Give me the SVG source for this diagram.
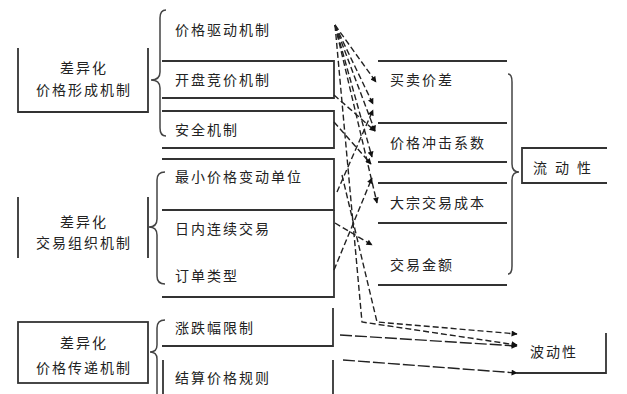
<svg xmlns="http://www.w3.org/2000/svg" width="627" height="394" viewBox="0 0 627 394">
<defs>
<style>
.ln{fill:none;stroke:#333;stroke-width:1.8}
.br{fill:none;stroke:#444;stroke-width:1.5}
.t{font-family:"Noto Sans CJK SC","Liberation Sans",sans-serif;font-size:14px;fill:#222;letter-spacing:2px}
.c{text-anchor:middle}
.d{fill:none;stroke:#222;stroke-width:1.4;stroke-dasharray:6,3}
.s{fill:none;stroke:#222;stroke-width:1.4;stroke-dasharray:12,3}
</style>
<marker id="ah" viewBox="0 0 10 10" refX="9" refY="5" markerWidth="7" markerHeight="6" orient="auto" markerUnits="userSpaceOnUse">
<path d="M0,0 L10,5 L0,10 z" fill="#111"/>
</marker>
</defs>
<rect width="627" height="394" fill="#fff"/>

<g id="src1">
<path class="ln" d="M18,48 V112 H148 V48"/>
<text class="t c" x="84" y="73">差异化</text>
<text class="t c" x="84" y="95">价格形成机制</text>
</g>
<g id="src2">
<path class="ln" d="M18,197 V258 M148,197 V258"/>
<text class="t c" x="84" y="227">差异化</text>
<text class="t c" x="84" y="248">交易组织机制</text>
</g>
<g id="src3">
<rect class="ln" x="18" y="322" width="130" height="61"/>
<text class="t c" x="84" y="348">差异化</text>
<text class="t c" x="84" y="373">价格传递机制</text>
</g>

<g id="brace1"><path class="br" d="M166,10 Q160,10 160,18 L160,72 Q160,80 151,80 Q160,80 160,88 L160,128 Q160,136 166,136"/></g>
<g id="brace2"><path class="br" d="M165,172 Q157,172 157,180 L157,219 Q157,227 149,227 Q157,227 157,235 L157,276 Q157,284 165,284"/></g>
<g id="brace3"><path class="br" d="M165,320 Q157,320 157,328 L157,345 Q157,352 150,352 Q157,352 157,359 L157,394"/></g>

<g id="m1"><text class="t" x="175" y="35">价格驱动机制</text></g>
<g id="m2"><path class="ln" d="M162,61 H334 V98 H162"/><text class="t" x="175" y="85">开盘竞价机制</text></g>
<g id="m3"><path class="ln" d="M162,111 H334 V148 H162"/><text class="t" x="175" y="135">安全机制</text></g>
<g id="m4"><path class="ln" d="M162,159 H334 V210 H162"/><text class="t" x="175" y="182">最小价格变动单位</text></g>
<g id="m5"><path class="ln" d="M334,210 V297 H162"/><text class="t" x="175" y="234">日内连续交易</text></g>
<g id="m6"><text class="t" x="175" y="281">订单类型</text></g>
<g id="m7"><path class="ln" d="M333,308 V346 H162"/><text class="t" x="175" y="333">涨跌幅限制</text></g>
<g id="m8"><path class="ln" d="M163,360 V394 M333,360 V394"/><text class="t" x="175" y="383">结算价格规则</text></g>

<g id="r1"><path class="ln" d="M378,61 H507"/><text class="t" x="390" y="85">买卖价差</text></g>
<g id="r2"><path class="ln" d="M378,123 H507 M378,162 H507"/><text class="t" x="390" y="148">价格冲击系数</text></g>
<g id="r3"><path class="ln" d="M378,183 H507 M378,223 H507"/><text class="t" x="390" y="208">大宗交易成本</text></g>
<g id="r4"><path class="ln" d="M378,285 H507"/><text class="t" x="390" y="270">交易金额</text></g>
<g id="brace4"><path class="br" d="M508,74 Q512,74 512,82 L512,164 Q512,172 519,172 Q512,172 512,180 L512,266 Q512,274 508,274"/></g>
<g id="liq"><path class="ln" d="M607,148 H522 V183 H607"/><text class="t" x="533" y="173" style="letter-spacing:8px">流动性</text></g>
<g id="vol"><path class="ln" d="M606,333 V373 H517"/><text class="t" x="530" y="357">波动性</text></g>

<g id="connectors">
<path class="d" d="M335,25 L376,82" marker-end="url(#ah)"/>
<path class="d" d="M335,25 L373,104" marker-end="url(#ah)"/>
<path class="d" d="M335,25 L375,131" marker-end="url(#ah)"/>
<path class="d" d="M335,25 L372,157" marker-end="url(#ah)"/>
<path class="d" d="M335,25 L377,203" marker-end="url(#ah)"/>
<path class="d" d="M335,25 L362,322 L517,345" marker-end="url(#ah)"/>
<path class="d" d="M334,95 L375,131" marker-end="url(#ah)"/>
<path class="d" d="M334,122 L371,164" marker-end="url(#ah)"/>
<path class="d" d="M337,192 L373,110" marker-end="url(#ah)"/>
<path class="d" d="M334,270 L372,178" marker-end="url(#ah)"/>
<path class="d" d="M335,223 L372,245" marker-end="url(#ah)"/>
<path class="d" d="M342,175 L377,322 L517,334" marker-end="url(#ah)"/>
<path class="s" d="M340,335 L517,346" marker-end="url(#ah)"/>
<path class="s" d="M343,360 L517,373" marker-end="url(#ah)"/>
</g>
</svg>
